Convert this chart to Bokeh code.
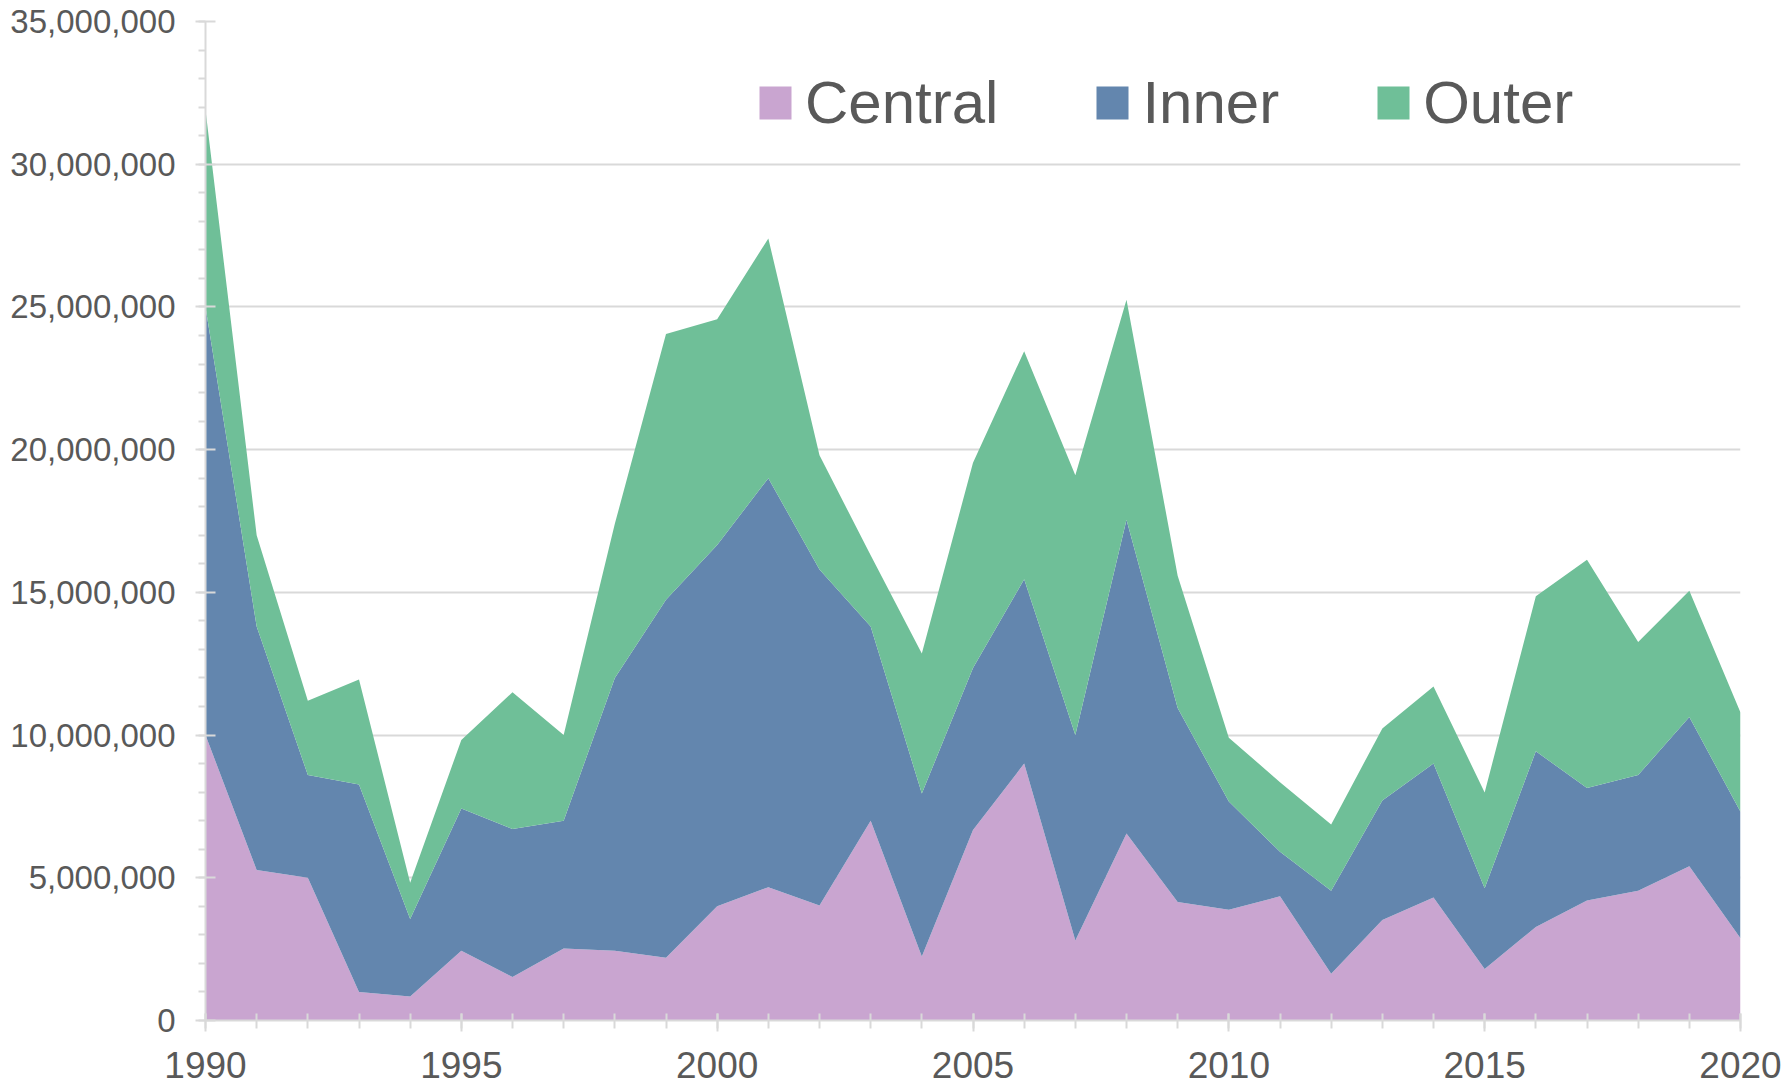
from bokeh.plotting import figure
from bokeh.models import ColumnDataSource, SingleIntervalTicker, NumeralTickFormatter, Range1d
from bokeh.embed import file_html
from bokeh.resources import INLINE

years = list(range(1990, 2021))
central = [10000000, 5270000, 5000000, 1000000, 840000, 2440000, 1520000, 2520000, 2440000, 2200000,
           4000000, 4670000, 4030000, 7000000, 2240000, 6670000, 9000000, 2800000, 6550000, 4150000,
           3880000, 4350000, 1640000, 3520000, 4310000, 1800000, 3280000, 4200000, 4550000, 5400000,
           2880000]
inner = [15000000, 8530000, 3600000, 7270000, 2720000, 4990000, 5190000, 4480000, 9560000, 12540000,
         12660000, 14330000, 11770000, 6800000, 5710000, 5680000, 6460000, 7200000, 10990000, 6800000,
         3790000, 1560000, 2910000, 4190000, 4690000, 2830000, 6150000, 3950000, 4050000, 5230000,
         4430000]
outer = [6900000, 3200000, 2600000, 3680000, 1270000, 2400000, 4790000, 3000000, 5400000, 9310000,
         7910000, 8400000, 4000000, 2500000, 4910000, 7190000, 7990000, 9100000, 7710000, 4630000,
         2240000, 2440000, 2320000, 2520000, 2700000, 3360000, 5430000, 7990000, 4660000, 4430000,
         3480000]
series = ["Central", "Inner", "Outer"]
colors = ["#C9A5D0", "#6386AE", "#6FBF98"]

source = ColumnDataSource(dict(year=years, Central=central, Inner=inner, Outer=outer))

TEXT = "#595959"
LINE = "#D9D9D9"

p = figure(width=1790, height=1084, output_backend="svg", toolbar_location=None,
           x_range=Range1d(1990, 2020), y_range=Range1d(0, 35000000),
           min_border_left=205, min_border_right=50, min_border_top=21, min_border_bottom=64)
p.outline_line_color = None
p.background_fill_color = "white"

p.varea_stack(stackers=series, x="year", color=colors, source=source, legend_label=series)

# axes
p.xaxis.ticker = SingleIntervalTicker(interval=5, num_minor_ticks=5)
p.yaxis.ticker = SingleIntervalTicker(interval=5000000, num_minor_ticks=5)
p.yaxis.formatter = NumeralTickFormatter(format="0,0")

for ax in (p.xaxis, p.yaxis):
    ax.axis_line_color = LINE
    ax.axis_line_width = 2
    ax.major_tick_line_color = LINE
    ax.minor_tick_line_color = LINE
    ax.major_tick_line_width = 2
    ax.minor_tick_line_width = 2
    ax.major_label_text_color = TEXT
    ax.major_label_text_font = "Liberation Sans"

p.xaxis.major_label_text_font_size = "37px"
p.xaxis.major_tick_in = 7
p.xaxis.major_tick_out = 11
p.xaxis.minor_tick_in = 7
p.xaxis.minor_tick_out = 8
p.xaxis.major_label_standoff = 20

p.yaxis.major_label_text_font_size = "33px"
p.yaxis.major_tick_in = 10
p.yaxis.major_tick_out = 10
p.yaxis.minor_tick_in = 0
p.yaxis.minor_tick_out = 7
p.yaxis.major_label_standoff = 20

p.xgrid.grid_line_color = None
p.ygrid.grid_line_color = LINE
p.ygrid.grid_line_width = 2

# legend
lg = p.legend[0]
lg.orientation = "horizontal"
lg.location = (550, 883)
lg.padding = 0
lg.margin = 0
lg.border_line_color = None
lg.background_fill_alpha = 0
lg.glyph_width = 40
lg.glyph_height = 41
lg.label_standoff = 10
lg.spacing = 94
lg.label_text_font = "Liberation Sans"
lg.label_text_font_size = "60px"
lg.label_text_color = TEXT

open("out.html", "w").write(file_html(p, INLINE))
